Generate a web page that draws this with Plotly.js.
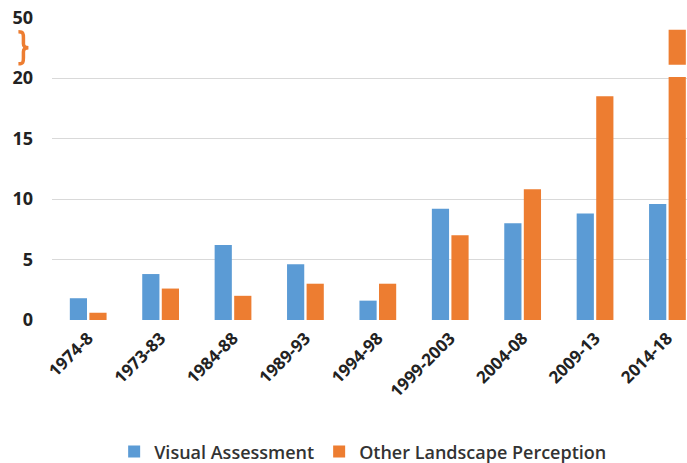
<!DOCTYPE html>
<html><head><meta charset="utf-8">
<script src="https://cdn.plot.ly/plotly-3.0.1.min.js"></script>
<style>html,body{margin:0;padding:0;background:#fff}</style>
</head><body>
<div id="chart" style="width:687px;height:463px"></div>
<script>
const categories = ['1974-8','1973-83','1984-88','1989-93','1994-98','1999-2003','2004-08','2009-13','2014-18'];
const visualAssessment = [1.8, 3.8, 6.2, 4.6, 1.6, 9.2, 8.0, 8.8, 9.6];
const otherPerception = [0.6, 2.6, 2.0, 3.0, 3.0, 7.0, 10.8, 18.5, 44];
const tickValues = [0, 5, 10, 15, 20, 50];
const tickLabels = ['0', '5', '10', '15', '20', '50'];

// broken axis: 0-20 linear, 20-50 compressed into 5 units
const BREAK = 20, TOP = 50, SPAN_ABOVE = 5;
function disp(v){ return v <= BREAK ? v : BREAK + (v - BREAK) * SPAN_ABOVE / (TOP - BREAK); }

const font = 'Open Sans, Noto Sans, sans-serif';
const traces = [
  {type:'bar', name:'Visual Assessment', x:categories, y:visualAssessment.map(disp),
   marker:{color:'#5B9BD5'}},
  {type:'bar', name:'Other Landscape Perception', x:categories, y:otherPerception.map(disp),
   marker:{color:'#ED7D31'}}
];
const layout = {
  width:687, height:463, autosize:false,
  margin:{l:52, r:0, t:17, b:143, autoexpand:false},
  paper_bgcolor:'#fff', plot_bgcolor:'#fff',
  barmode:'group', bargap:0.46, bargroupgap:0.12,
  font:{family:font, color:'#222'},
  xaxis:{type:'category', range:[-0.5, 8.27], tickangle:-45, showgrid:false, showline:false, zeroline:false,
         automargin:false, ticks:'', ticklabelstandoff:4,
         tickfont:{size:17, family:font, weight:'bold', color:'#222'}},
  yaxis:{range:[0, 25.05], tickvals:tickValues.map(disp), ticktext:tickLabels, showgrid:true,
         automargin:false, gridcolor:'#d9d9d9', gridwidth:1, zeroline:false, showline:false, ticks:'',
         ticklabelstandoff:18, tickfont:{size:18, family:font, weight:'bold', color:'#222'}},
  showlegend:true,
  legend:{orientation:'h', x:0.49, xanchor:'center', y:-0.435, yanchor:'middle',
          itemwidth:30, font:{size:18, family:font, weight:600, color:'#333'}},
  shapes:[
    {type:'rect', xref:'paper', yref:'y', x0:0, x1:1, y0:disp(BREAK)+0.08, y1:disp(BREAK)+1.1,
     fillcolor:'#fff', line:{width:0}, layer:'above'},
    {type:'path', xref:'paper', yref:'y', xsizemode:'pixel', ysizemode:'pixel',
     xanchor:-0.045, yanchor:22.5,
     path:'M -5,16 C 0,16 0,14 0,10 L 0,4 C 0,1 2,0 5,0 C 2,0 0,-1 0,-4 L 0,-10 C 0,-14 0,-16 -5,-16',
     line:{color:'#ED7D31', width:3.5}, fillcolor:'rgba(0,0,0,0)'}
  ]
};
Plotly.newPlot('chart', traces, layout, {displayModeBar:false, staticPlot:true});
</script>
</body></html>
